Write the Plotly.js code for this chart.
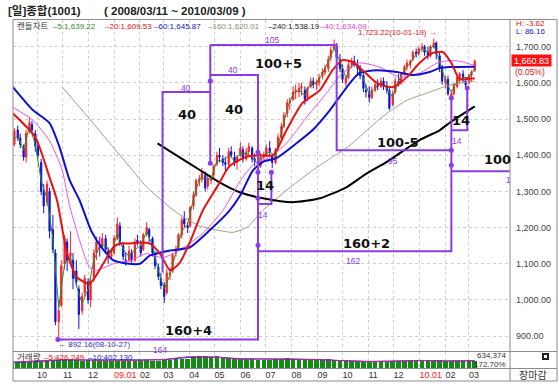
<!DOCTYPE html>
<html><head><meta charset="utf-8">
<script src="https://cdn.plot.ly/plotly-3.0.1.min.js"></script>
<style>html,body{margin:0;padding:0;background:#fff;}#chart{width:559px;height:386px;}</style>
</head><body><div id="chart"></div>
<script>
// ---------- candles (roughly two per week) ----------
const candleDates = [
'2008-09-01','2008-09-04','2008-09-08','2008-09-11','2008-09-15','2008-09-18','2008-09-22','2008-09-25','2008-09-29','2008-10-02',
'2008-10-06','2008-10-09','2008-10-13','2008-10-16','2008-10-20','2008-10-23','2008-10-27','2008-10-30',
'2008-11-03','2008-11-06','2008-11-10','2008-11-13','2008-11-17','2008-11-20','2008-11-24','2008-11-27',
'2008-12-01','2008-12-04','2008-12-08','2008-12-11','2008-12-15','2008-12-18','2008-12-22','2008-12-25','2008-12-29','2009-01-01',
'2009-01-05','2009-01-08','2009-01-12','2009-01-15','2009-01-19','2009-01-22','2009-01-26','2009-01-29',
'2009-02-02','2009-02-05','2009-02-09','2009-02-12','2009-02-16','2009-02-19','2009-02-23','2009-02-26',
'2009-03-02','2009-03-05','2009-03-09','2009-03-12','2009-03-16','2009-03-19','2009-03-23','2009-03-26','2009-03-30','2009-04-02',
'2009-04-06','2009-04-09','2009-04-13','2009-04-16','2009-04-20','2009-04-23','2009-04-27','2009-04-30',
'2009-05-04','2009-05-07','2009-05-11','2009-05-14','2009-05-18','2009-05-21','2009-05-25','2009-05-28',
'2009-06-01','2009-06-04','2009-06-08','2009-06-11','2009-06-15','2009-06-18','2009-06-22','2009-06-25','2009-06-29','2009-07-02',
'2009-07-06','2009-07-09','2009-07-13','2009-07-16','2009-07-20','2009-07-23','2009-07-27','2009-07-30',
'2009-08-03','2009-08-06','2009-08-10','2009-08-13','2009-08-17','2009-08-20','2009-08-24','2009-08-27','2009-08-31','2009-09-03',
'2009-09-07','2009-09-10','2009-09-14','2009-09-17','2009-09-21','2009-09-24','2009-09-28','2009-10-01',
'2009-10-05','2009-10-08','2009-10-12','2009-10-15','2009-10-19','2009-10-22','2009-10-26','2009-10-29',
'2009-11-02','2009-11-05','2009-11-09','2009-11-12','2009-11-16','2009-11-19','2009-11-23','2009-11-26','2009-11-30','2009-12-03',
'2009-12-07','2009-12-10','2009-12-14','2009-12-17','2009-12-21','2009-12-24','2009-12-28','2009-12-31',
'2010-01-04','2010-01-07','2010-01-11','2010-01-14','2010-01-18','2010-01-21','2010-01-25','2010-01-28',
'2010-02-01','2010-02-04','2010-02-08','2010-02-11','2010-02-15','2010-02-18','2010-02-22','2010-02-25',
'2010-03-01','2010-03-04','2010-03-08'];
const openVals = [
1455,1430,1470,1448,1420,1395,1470,1485,1460,1425,
1380,1300,1270,1300,1195,1130,940,985,
1100,1160,1120,1110,1080,1030,970,1020,
1050,1000,1060,1130,1150,1150,1170,1135,1120,1130,
1170,1205,1150,1110,1110,1130,1110,1165,
1150,1140,1185,1195,1170,1125,1090,1060,
1040,1020,1070,1080,1130,1145,1180,1225,1205,1205,
1260,1290,1330,1335,1345,1315,1330,1345,
1375,1400,1390,1380,1375,1410,1395,1380,
1400,1415,1390,1410,1420,1390,1385,1370,1395,1400,
1420,1400,1380,1420,1450,1480,1515,1545,
1555,1575,1575,1585,1580,1560,1590,1605,1595,1600,
1620,1630,1640,1670,1695,1700,1665,1640,
1600,1615,1650,1660,1650,1640,1620,1580,
1570,1560,1580,1595,1590,1605,1590,1580,1540,1575,
1605,1600,1625,1645,1650,1665,1685,1680,
1695,1700,1685,1675,1700,1710,1675,1640,
1600,1610,1565,1570,1590,1615,1625,1605,
1600,1620,1635];
const highVals = [
1462,1475,1482,1460,1430,1470,1505,1495,1470,1440,
1390,1320,1330,1310,1235,1140,1000,1110,
1180,1170,1190,1130,1110,1040,1020,1070,
1060,1060,1140,1175,1175,1185,1180,1145,1135,1180,
1228,1215,1160,1130,1150,1140,1170,1180,
1165,1185,1215,1200,1175,1135,1100,1075,
1050,1085,1090,1130,1150,1185,1230,1245,1215,1260,
1300,1335,1345,1365,1355,1345,1345,1375,
1410,1420,1400,1395,1420,1425,1410,1400,
1435,1425,1420,1435,1425,1405,1395,1405,1410,1430,
1440,1405,1420,1460,1490,1520,1555,1560,
1590,1595,1600,1600,1590,1590,1615,1615,1610,1625,
1640,1650,1675,1700,1720,1710,1680,1650,
1620,1660,1670,1675,1665,1650,1630,1595,
1590,1590,1605,1610,1615,1615,1605,1590,1580,1615,
1625,1630,1650,1665,1665,1690,1695,1700,
1710,1705,1700,1705,1723,1715,1685,1650,
1620,1620,1580,1600,1620,1630,1635,1615,
1625,1635,1665];
const lowVals = [
1420,1425,1440,1420,1385,1380,1460,1460,1410,1390,
1290,1240,1260,1170,1130,930,892,980,
1085,1080,1110,1030,1040,920,960,1010,
990,980,1050,1110,1120,1140,1130,1100,1110,1125,
1165,1150,1110,1095,1105,1100,1105,1150,
1120,1135,1175,1160,1120,1085,1055,1030,
992,1015,1055,1075,1120,1140,1170,1200,1185,1200,
1250,1285,1315,1325,1300,1305,1320,1340,
1370,1380,1370,1355,1370,1395,1370,1360,
1395,1380,1385,1400,1380,1370,1355,1365,1385,1395,
1400,1365,1375,1415,1445,1475,1505,1525,
1550,1555,1560,1565,1540,1550,1585,1585,1580,1590,
1610,1620,1630,1660,1690,1660,1630,1600,
1590,1610,1640,1645,1620,1610,1575,1560,
1545,1555,1575,1580,1585,1580,1570,1525,1535,1570,
1590,1595,1620,1635,1640,1660,1670,1675,
1685,1675,1665,1670,1695,1665,1630,1595,
1585,1565,1552,1565,1585,1600,1600,1585,
1595,1605,1630];
const closeVals = [
1430,1468,1448,1430,1395,1460,1490,1470,1425,1400,
1300,1260,1320,1190,1140,940,970,1095,
1170,1110,1130,1060,1050,960,1010,1060,
1000,1050,1130,1160,1145,1170,1140,1120,1125,1170,
1210,1160,1120,1105,1135,1110,1160,1160,
1130,1180,1200,1175,1130,1095,1065,1040,
1010,1075,1075,1125,1140,1180,1220,1210,1200,1255,
1290,1330,1335,1350,1310,1335,1340,1370,
1400,1395,1380,1375,1410,1400,1380,1395,
1420,1390,1410,1425,1390,1385,1365,1395,1400,1420,
1410,1380,1415,1450,1480,1510,1545,1550,
1575,1580,1585,1590,1555,1585,1605,1595,1600,1615,
1630,1640,1665,1690,1705,1670,1640,1610,
1615,1650,1660,1650,1640,1620,1585,1575,
1560,1580,1595,1590,1605,1590,1580,1530,1570,1605,
1600,1625,1645,1655,1660,1685,1680,1695,
1700,1685,1675,1700,1710,1680,1640,1605,
1610,1570,1570,1595,1615,1625,1610,1595,
1620,1630,1660];

// ---------- weekly series ----------
const weekDates = ['2008-09-01','2008-09-08','2008-09-15','2008-09-22','2008-09-29','2008-10-06','2008-10-13','2008-10-20','2008-10-27','2008-11-03','2008-11-10','2008-11-17','2008-11-24','2008-12-01','2008-12-08','2008-12-15','2008-12-22','2008-12-29','2009-01-05','2009-01-12','2009-01-19','2009-01-26','2009-02-02','2009-02-09','2009-02-16','2009-02-23','2009-03-02','2009-03-09','2009-03-16','2009-03-23','2009-03-30','2009-04-06','2009-04-13','2009-04-20','2009-04-27','2009-05-04','2009-05-11','2009-05-18','2009-05-25','2009-06-01','2009-06-08','2009-06-15','2009-06-22','2009-06-29','2009-07-06','2009-07-13','2009-07-20','2009-07-27','2009-08-03','2009-08-10','2009-08-17','2009-08-24','2009-08-31','2009-09-07','2009-09-14','2009-09-21','2009-09-28','2009-10-05','2009-10-12','2009-10-19','2009-10-26','2009-11-02','2009-11-09','2009-11-16','2009-11-23','2009-11-30','2009-12-07','2009-12-14','2009-12-21','2009-12-28','2010-01-04','2010-01-11','2010-01-18','2010-01-25','2010-02-01','2010-02-08','2010-02-15','2010-02-22','2010-03-01','2010-03-08'];
const ma5Vals = [1445,1450,1415,1480,1430,1330,1280,1170,980,1100,1120,1040,990,1030,1110,1150,1150,1130,
1185,1140,1120,1140,1150,1190,1150,1080,1030,1070,1130,1190,1210,1280,1335,1335,1335,1385,1385,1400,1385,
1405,1405,1395,1375,1400,1410,1395,1465,1530,1570,1580,1565,1600,1600,1625,1660,1695,1660,1615,1650,1645,1610,
1570,1585,1600,1585,1560,1605,1635,1655,1680,1695,1685,1705,1660,1605,1575,1605,1615,1615,1640];
const volumeVals = [300,320,330,340,310,350,380,420,450,480,460,430,420,440,470,460,400,380,
420,410,390,400,430,450,420,410,440,470,500,520,510,600,650,700,620,650,600,560,540,
520,500,480,460,450,470,500,520,540,530,520,490,480,460,470,480,470,440,420,400,380,390,
370,350,340,360,380,390,400,380,370,420,430,410,440,400,380,370,390,400,420];
const volMaDates = ['2008-09-01','2008-10-01','2008-11-01','2008-12-01','2009-01-01','2009-02-01','2009-03-01','2009-04-01','2009-05-01','2009-06-01','2009-07-01','2009-08-01','2009-09-01','2009-10-01','2009-11-01','2009-12-01','2010-01-01','2010-02-01','2010-03-08'];
const volMa5 = [330,380,470,440,410,430,480,640,610,500,510,510,470,400,360,390,430,390,426];
const volMa10 = [320,360,450,450,420,420,460,600,620,520,500,510,480,410,370,385,420,395,402];

// ---------- moving averages ----------
const ma20Dates = ['2008-09-02','2008-09-29','2008-10-16','2008-10-25','2008-11-06','2008-11-18','2008-12-03','2008-12-19','2008-12-31','2009-01-08','2009-01-20','2009-02-01','2009-02-13','2009-02-25','2009-03-09','2009-03-20','2009-04-01','2009-04-17','2009-05-04','2009-05-19','2009-06-07','2009-06-24','2009-07-10','2009-07-26','2009-08-14','2009-09-04','2009-09-19','2009-10-01','2009-10-13','2009-10-25','2009-11-11','2009-11-30','2009-12-17','2010-01-01','2010-01-17','2010-01-29','2010-02-08','2010-02-18','2010-03-02','2010-03-08'];
const ma20Vals = [1516,1450,1339,1275,1128,1062,1045,1100,1145,1156,1156,1159,1156,1128,1082,1101,1156,1247,1312,1370,1395,1400,1400,1469,1544,1580,1635,1663,1658,1635,1600,1588,1616,1655,1683,1685,1655,1610,1612,1612];
const ma60Dates = ['2008-09-02','2008-09-26','2008-10-16','2008-10-28','2008-11-09','2008-11-21','2008-12-05','2008-12-19','2008-12-31','2009-01-16','2009-02-01','2009-02-13','2009-03-09','2009-04-01','2009-04-25','2009-05-19','2009-06-01','2009-06-16','2009-06-28','2009-07-14','2009-08-07','2009-08-26','2009-09-16','2009-10-06','2009-10-21','2009-11-11','2009-12-05','2009-12-24','2010-01-13','2010-01-25','2010-02-06','2010-03-08'];
const ma60Vals = [1589,1525,1489,1422,1331,1275,1190,1140,1110,1101,1100,1123,1137,1145,1192,1247,1290,1358,1382,1392,1433,1469,1525,1588,1627,1635,1630,1622,1630,1641,1644,1645];
const ma40Dates = ['2008-09-02','2008-09-26','2008-10-16','2008-10-31','2008-11-09','2008-11-25','2008-12-03','2008-12-11','2008-12-21','2008-12-31','2009-01-20','2009-02-09','2009-02-28','2009-03-20','2009-04-17','2009-05-11','2009-06-01','2009-06-18','2009-07-06','2009-07-26','2009-08-19','2009-09-12','2009-10-01','2009-10-21','2009-11-14','2009-12-08','2010-01-01','2010-01-22','2010-02-06','2010-02-18','2010-03-08'];
const ma40Vals = [1533,1497,1440,1360,1260,1135,1090,1082,1090,1100,1109,1128,1117,1137,1184,1247,1330,1378,1394,1433,1505,1572,1627,1655,1644,1616,1627,1655,1662,1660,1648];
const ma160Dates = ['2008-10-31','2008-11-30','2008-12-27','2009-01-20','2009-02-09','2009-03-15','2009-04-13','2009-05-07','2009-05-23','2009-06-09','2009-06-28','2009-07-26','2009-08-26','2009-09-19','2009-10-10','2009-10-30','2009-11-23','2009-12-17','2010-01-10','2010-02-06','2010-03-08'];
const ma160Vals = [1589,1508,1433,1367,1312,1245,1205,1192,1187,1201,1248,1303,1358,1395,1428,1469,1516,1552,1572,1594,1605];
const ma240Dates = ['2009-02-22','2009-03-20','2009-04-13','2009-05-07','2009-06-01','2009-06-28','2009-08-02','2009-09-04','2009-10-06','2009-10-30','2009-11-23','2010-01-01','2010-01-25','2010-02-06','2010-03-08'];
const ma240Vals = [1433,1395,1360,1325,1297,1281,1270,1281,1312,1350,1382,1442,1469,1490,1535];

// ---------- time-cycle annotation lines ----------
const cycleDates = ['2008-10-26','2009-06-22','2009-06-22','2009-04-26',null,
 '2009-04-26','2009-04-26',null,
 '2009-04-26','2009-09-24','2009-09-24','2010-02-08',null,
 '2009-02-28','2009-02-28','2009-04-26',null,
 '2009-07-08','2009-07-08','2009-06-22',null,
 '2009-06-22','2010-02-08','2010-02-08',null,
 '2010-02-08','2010-02-27','2010-02-27',null,
 '2010-02-08','2010-04-19'];
const cycleVals = [891,891,1622,1622,null,
 1705,1378,null,
 1705,1705,1414,1414,null,
 1076,1575,1575,null,
 1353,1265,1265,null,
 1134.5,1134.5,1566,null,
 1469,1469,1586,null,
 1356,1356];
const dotDates = ['2008-10-26','2009-04-26','2009-04-26','2009-06-22','2009-06-22','2009-06-22','2009-06-22','2009-07-08','2010-02-08','2010-02-08','2010-02-08','2010-02-27'];
const dotVals = [891,1605,1378,1408.5,1353,1281,1151,1353,1558,1414,1372.5,1586];

const monthTicks = ['2008-10-01','2008-11-01','2008-12-01','2009-01-01','2009-02-01','2009-03-01','2009-04-01','2009-05-01','2009-06-01','2009-07-01','2009-08-01','2009-09-01','2009-10-01','2009-11-01','2009-12-01','2010-01-01','2010-02-01','2010-03-01'];
const monthLabels = ['10','11','12','09.01','02','03','04','05','06','07','08','09','10','11','12','10.01','02','03'];
const priceTicks = [900,1000,1100,1200,1300,1400,1500,1600,1700];
const lastPrice = 1660.83;

// ---------- layout helpers (pixel -> paper) ----------
const L=13,R=510,T=20,B=368;
const px = x => (x-L)/(R-L);
const py = y => (B-y)/(B-T);
const FONT = 'Liberation Sans, Arial, Noto Sans CJK KR, sans-serif';
function txt(x,y,text,o){o=o||{};return {xref:'paper',yref:'paper',x:px(x),y:py(y),text:text,showarrow:false,
  xanchor:o.anchor||'left',yanchor:'middle',borderpad:0,
  font:{family:o.family||FONT,size:o.size||8,color:o.color||'#333'}};}
const PURPLE='#8a3ce6';
const BIG={family:'DejaVu Sans',size:13,color:'#111',anchor:'center'};
const SMALLP={size:8.5,color:PURPLE,anchor:'center'};

const traces = [
 {type:'bar',x:weekDates,y:volumeVals,xaxis:'x',yaxis:'y2',marker:{color:'#168a16',line:{width:0}},width:5.5*86400000,hoverinfo:'skip'},
 {type:'scatter',mode:'lines',x:volMaDates,y:volMa10,xaxis:'x',yaxis:'y2',line:{color:'#2020d0',width:1}},
 {type:'scatter',mode:'lines',x:volMaDates,y:volMa5,xaxis:'x',yaxis:'y2',line:{color:'#d0209a',width:1}},
 {type:'scatter',mode:'lines',x:ma160Dates,y:ma160Vals,line:{color:'#a0a088',width:1,shape:'spline',smoothing:0.6}},
 {type:'scatter',mode:'lines',x:ma240Dates,y:ma240Vals,line:{color:'#000',width:2,shape:'spline',smoothing:0.6}},
 {type:'candlestick',x:candleDates,open:openVals,high:highVals,low:lowVals,close:closeVals,
   increasing:{line:{color:'#ff2020',width:1},fillcolor:'#ff2020'},
   decreasing:{line:{color:'#1010e0',width:1},fillcolor:'#1010e0'},whiskerwidth:0,hoverinfo:'skip'},
 {type:'scatter',mode:'lines',x:weekDates,y:ma5Vals,line:{color:'#2e8b2e',width:1}},
 {type:'scatter',mode:'lines',x:ma40Dates,y:ma40Vals,line:{color:'#f050f0',width:1,shape:'spline',smoothing:0.6}},
 {type:'scatter',mode:'lines',x:ma60Dates,y:ma60Vals,line:{color:'#1010d0',width:2,shape:'spline',smoothing:0.6}},
 {type:'scatter',mode:'lines',x:ma20Dates,y:ma20Vals,line:{color:'#e81010',width:2,shape:'spline',smoothing:0.6}},
 {type:'scatter',mode:'lines',x:cycleDates,y:cycleVals,line:{color:PURPLE,width:2},connectgaps:false},
 {type:'scatter',mode:'markers',x:dotDates,y:dotVals,marker:{color:PURPLE,size:5}}
];

const frame = '#8c8c8c';
const shapes = [
 {type:'line',xref:'paper',yref:'paper',x0:px(13),x1:px(557),y0:py(19.5),y1:py(19.5),line:{color:frame,width:1}},
 {type:'line',xref:'paper',yref:'paper',x0:px(13),x1:px(557),y0:py(381),y1:py(381),line:{color:frame,width:1}},
 {type:'line',xref:'paper',yref:'paper',x0:px(13),x1:px(13),y0:py(19.5),y1:py(381),line:{color:frame,width:1}},
 {type:'line',xref:'paper',yref:'paper',x0:px(557),x1:px(557),y0:py(19.5),y1:py(381),line:{color:frame,width:1}},
 {type:'line',xref:'paper',yref:'paper',x0:px(510),x1:px(510),y0:py(19.5),y1:py(381),line:{color:frame,width:1}},
 {type:'line',xref:'paper',yref:'paper',x0:px(13),x1:px(557),y0:py(351.5),y1:py(351.5),line:{color:frame,width:1}},
 {type:'line',xref:'paper',yref:'paper',x0:px(13),x1:px(557),y0:py(368.5),y1:py(368.5),line:{color:frame,width:1}},
 {type:'rect',xref:'paper',yref:'paper',x0:px(542),x1:px(549),y0:py(360),y1:py(353),fillcolor:'#222',line:{width:0}},
 {type:'rect',xref:'paper',yref:'paper',x0:px(544),x1:px(547),y0:py(358),y1:py(355),fillcolor:'#fff',line:{width:0}}
];

const ann = [
 txt(7,11,'<b>[일]종합(1001)</b>',{size:11.5,color:'#222'}),
 txt(103,11,'<b>( 2008/03/11 ~ 2010/03/09 )</b>',{size:11.5,color:'#222'}),
 txt(16,26,'캔들차트',{size:8.5,color:'#333'}),
 txt(52,26,'–5:1,639.22',{color:'#2e8b2e'}),
 txt(104,26,'–20:1,609.53',{color:'#e81010'}),
 txt(153,26,'–60:1,645.87',{color:'#1010d0'}),
 txt(207,26,'–160:1,620.01',{color:'#8a8a70'}),
 txt(267,26,'–240:1,538.19',{color:'#222'}),
 txt(319,26,'–40:1,634.09',{color:'#e040e0'}),
 txt(357,33,'1,723.22(10-01-19) →',{color:'#e81010'}),
 txt(57,344,'← 892.16(08-10-27)',{color:'#3030c0'}),
 txt(515,23.5,'H: -3.62',{color:'#e81010'}),
 txt(515,31.5,'L: 86.16',{color:'#2020d0'}),
 {xref:'paper',yref:'y',x:px(511),y:lastPrice,text:'1,660.83',showarrow:false,xanchor:'left',yanchor:'middle',
  bgcolor:'#ff1010',width:39,height:11,borderpad:0,font:{family:FONT,size:9,color:'#fff'}},
 txt(514,72,'(0.05%)',{size:8.5,color:'#e81010'}),
 txt(507,355.5,'634,374',{anchor:'right'}),
 txt(507,364.5,'172.70%',{anchor:'right'}),
 txt(16,357,'거래량',{size:8.5,color:'#333'}),
 txt(43,357,'–5:426,249',{color:'#e81010'}),
 txt(87,357,'–10:402,130',{color:'#2020d0'}),
 txt(533,375,'장마감',{size:10,color:'#333',anchor:'center'}),
 txt(186,88,'40',SMALLP), txt(233,70,'40',SMALLP), txt(272,40,'105',SMALLP), txt(393,161,'95',SMALLP),
 txt(263,215,'14',SMALLP), txt(353,261,'162',SMALLP), txt(160,350,'164',SMALLP), txt(457,141,'14',SMALLP), txt(508,180,'1',SMALLP),
 txt(187,115,'<b>40</b>',BIG), txt(234,110,'<b>40</b>',BIG), txt(278,64,'<b>100+5</b>',BIG), txt(398,142,'<b>100-5</b>',BIG),
 txt(265,185,'<b>14</b>',BIG), txt(366,243,'<b>160+2</b>',BIG), txt(188,330,'<b>160+4</b>',BIG), txt(461,120,'<b>14</b>',BIG),
 txt(497,160,'<b>100</b>',BIG)
];

const layout = {
 width:559,height:386,margin:{l:13,r:49,t:20,b:18,pad:0},
 paper_bgcolor:'#fff',plot_bgcolor:'#fff',showlegend:false,
 font:{family:FONT,size:9,color:'#333'},
 xaxis:{type:'date',range:['2008-09-02 08:00','2010-04-19 02:00'],anchor:'y2',domain:[0,1],
   rangeslider:{visible:false},tickmode:'array',tickvals:monthTicks,
   ticktext:monthLabels.map(s=>s.indexOf('.')>0?'<span style="color:#ff2020">'+s+'</span>':s),
   ticklabelposition:'outside right',ticks:'',showline:false,zeroline:false,
   showgrid:true,gridcolor:'#cfcfcf',griddash:'dot',gridwidth:1,tickfont:{size:9,color:'#333'}},
 yaxis:{domain:[py(351.5),1],range:[857.6,1773.9],side:'right',anchor:'x',tickmode:'array',tickvals:priceTicks,
   tickformat:',.2f',showgrid:true,gridcolor:'#cfcfcf',griddash:'dot',gridwidth:1,zeroline:false,showline:false,
   ticks:'',ticklabelstandoff:5,tickfont:{size:9,color:'#444'}},
 yaxis2:{domain:[0,py(352)],range:[0,900],anchor:'x',showticklabels:false,showgrid:false,zeroline:false,showline:false},
 bargap:0,shapes:shapes,annotations:ann
};
Plotly.newPlot('chart',traces,layout,{staticPlot:true,displayModeBar:false});
</script></body></html>
